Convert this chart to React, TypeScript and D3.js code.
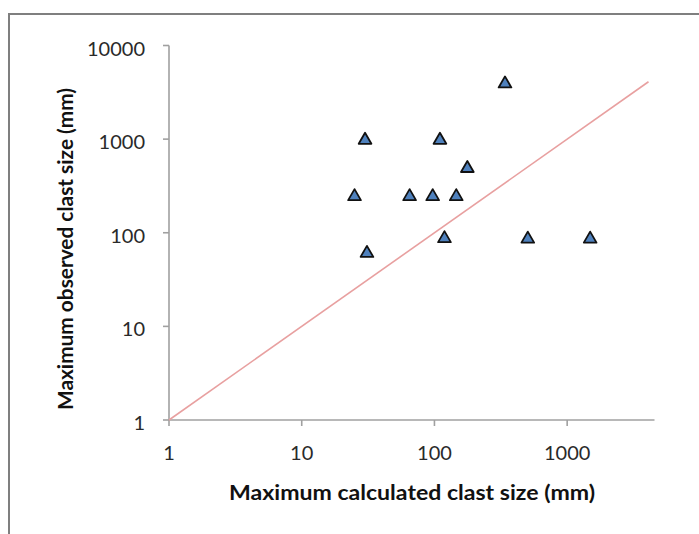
import React from 'react';
import * as d3 from 'd3';

// calculated vs observed maximum clast size (mm)
const calculated = [30, 110, 340, 25, 65, 97, 146, 177, 31, 119, 505, 1490];
const observed = [1000, 1000, 4000, 250, 250, 250, 250, 500, 62, 89, 88, 88];
const tickValues = [1, 10, 100, 1000, 10000];
const xTickValues = [1, 10, 100, 1000];
const oneToOne = [1, 4100];

const W = 699;
const H = 534;

const App = () => {
  const x = d3.scaleLog().domain([1, 4550]).range([169, 654.5]);
  const y = d3.scaleLog().domain([1, 10000]).range([420, 45.5]);

  const axisColor = '#a0a0a0';
  const font = 'Lato, "Open Sans", sans-serif';

  const tri = d3.symbol().type(d3.symbolTriangle).size(70)();

  const line = d3
    .line<number>()
    .x(d => x(d))
    .y(d => y(d));

  return (
    <svg width={W} height={H} style={{ position: 'absolute', left: 0, top: 0 }}>
      <rect x={0} y={0} width={W} height={H} fill="#fff" />
      {/* chart frame, runs past the right/bottom edge */}
      <rect x={9} y={14} width={760} height={600} fill="none" stroke="#7f7f7f" strokeWidth={2} />

      {/* axes */}
      <line x1={x(1)} x2={x(4550)} y1={y(1)} y2={y(1)} stroke={axisColor} strokeWidth={1.6} />
      <line x1={x(1)} x2={x(1)} y1={y(1)} y2={y(10000)} stroke={axisColor} strokeWidth={1.6} />
      {tickValues.map(t => (
        <g key={'y' + t}>
          <line x1={x(1) - 6} x2={x(1)} y1={y(t)} y2={y(t)} stroke={axisColor} strokeWidth={1.6} />
          <text x={145} y={y(t) + 10} textAnchor="end" fontFamily={font} fontSize={20} fill="#2a2a2a">
            {t}
          </text>
        </g>
      ))}
      {xTickValues.map(t => (
        <g key={'x' + t}>
          <line x1={x(t)} x2={x(t)} y1={y(1)} y2={y(1) + 6} stroke={axisColor} strokeWidth={1.6} />
          <text x={x(t)} y={460} textAnchor="middle" fontFamily={font} fontSize={20} fill="#2a2a2a">
            {t}
          </text>
        </g>
      ))}

      {/* 1:1 line */}
      <path d={line(oneToOne) || ''} fill="none" stroke="#e8a0a0" strokeWidth={1.6} />

      {/* data points */}
      {calculated.map((c, i) => (
        <path
          key={i}
          d={tri || ''}
          transform={`translate(${x(c)},${y(observed[i]) + 1})`}
          fill="#4f81bd"
          stroke="#111"
          strokeWidth={1.8}
          strokeLinejoin="round"
        />
      ))}

      {/* axis titles */}
      <text
        x={412}
        y={500}
        textAnchor="middle"
        fontFamily={font}
        fontWeight="bold"
        fontSize={20}
        textLength={366}
        lengthAdjust="spacingAndGlyphs"
        fill="#111"
      >
        Maximum calculated clast size (mm)
      </text>
      <text
        transform="translate(73,249) rotate(-90)"
        textAnchor="middle"
        fontFamily={font}
        fontWeight="bold"
        fontSize={20}
        textLength={322}
        lengthAdjust="spacingAndGlyphs"
        fill="#111"
      >
        Maximum observed clast size (mm)
      </text>
    </svg>
  );
};

export default App;
